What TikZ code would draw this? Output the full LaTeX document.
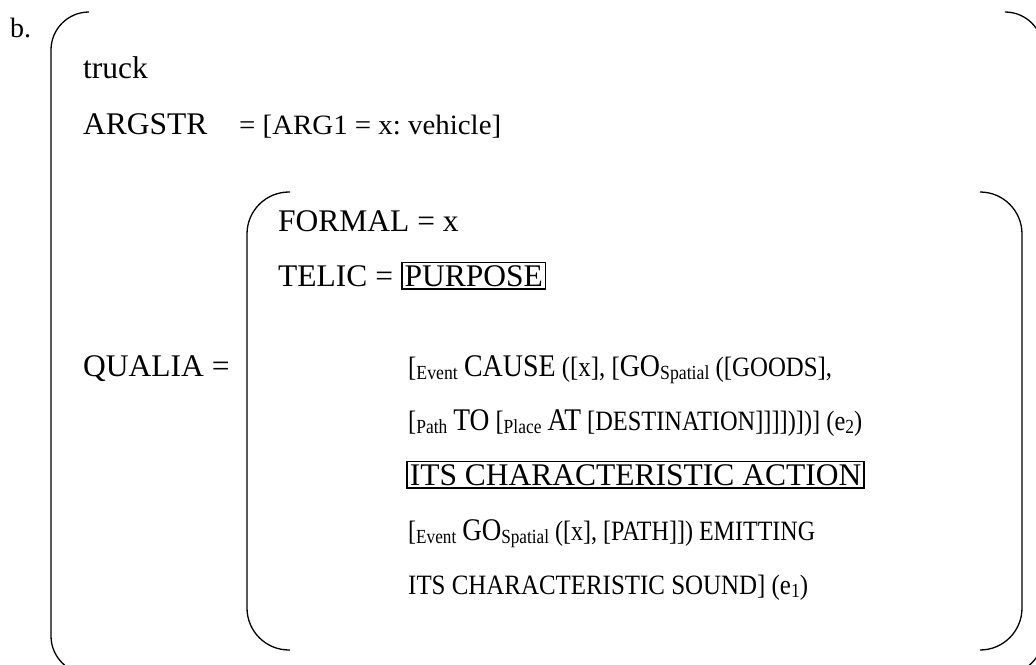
\documentclass[tikz,border=0pt]{standalone}
\usepackage{fontspec}
\usepackage{graphicx}
\setmainfont{Liberation Serif}
\frenchspacing
% text sizes: headings/predicates and the running arguments
\newcommand{\bigf}{\fontsize{31.5}{36}\selectfont}
\newcommand{\smf}{\fontsize{28}{32}\selectfont}
% small lowered labels inside conceptual brackets
\newcommand{\lab}[1]{\raisebox{-3pt}{\fontsize{20}{22}\selectfont #1}}
\newcommand{\boxtxt}[1]{{\setlength{\fboxsep}{2pt}\setlength{\fboxrule}{1.6pt}\fbox{#1}}}
% set a line to a given width, keeping its height
\newcommand{\hfit}[2]{\resizebox{#1}{\height}{#2}}
\begin{document}
\begin{tikzpicture}[x=1pt,y=-1pt,
  txt/.style={anchor=base west,inner sep=0pt,font=\bigf},
  stxt/.style={anchor=base west,inner sep=0pt,font=\smf},
  brk/.style={line width=1.3pt,rounded corners=38pt},
  ibrk/.style={line width=1.3pt,rounded corners=42pt}]
\useasboundingbox (0,0) rectangle (1036,664);
\clip (0,0) rectangle (1036,664);

% outer attribute-value matrix brackets
\draw[brk] (88,12) -- (51,12) -- (51,674) -- (88,674);
\draw[brk] (1006,12) -- (1043,12) -- (1043,674) -- (1006,674);
% inner qualia brackets
\draw[ibrk] (290,192) -- (247,192) -- (247,650) -- (290,650);
\draw[ibrk] (981,192) -- (1022,192) -- (1022,650) -- (981,650);

\node[txt,font=\fontsize{28}{32}\selectfont] (lbl) at (10,37) {b.};
\node[txt] (head) at (83,78) {truck};
\node[txt] (arg) at (83,134) {ARGSTR};
\node[stxt] (argv) at (239,134) {\hfit{262pt}{= [ARG1 = x: vehicle]}};
\node[txt] (qual) at (83,376) {QUALIA =};
\node[txt] (formal) at (278,231) {FORMAL = x};
\node[txt] (telic) at (278,286) {TELIC = \boxtxt{PURPOSE}};
\node[stxt] (cause) at (408,376) {\hfit{424pt}{[\lab{Event} {\bigf CAUSE} ([x], [{\bigf GO}\lab{Spatial} ([GOODS],}};
\node[stxt] (path) at (408,430) {\hfit{454pt}{[\lab{Path} {\bigf TO} [\lab{Place} {\bigf AT} [DESTINATION]]]])])] (e\lab{2})}};
\node[txt] (act) at (406,485) {\boxtxt{ITS CHARACTERISTIC ACTION}};
\node[stxt] (go) at (408,540) {\hfit{407pt}{[\lab{Event} {\bigf GO}\lab{Spatial} ([x], [PATH]]) EMITTING}};
\node[stxt] (snd) at (408,594) {\hfit{400pt}{ITS CHARACTERISTIC SOUND] (e\lab{1})}};
\end{tikzpicture}
\end{document}
